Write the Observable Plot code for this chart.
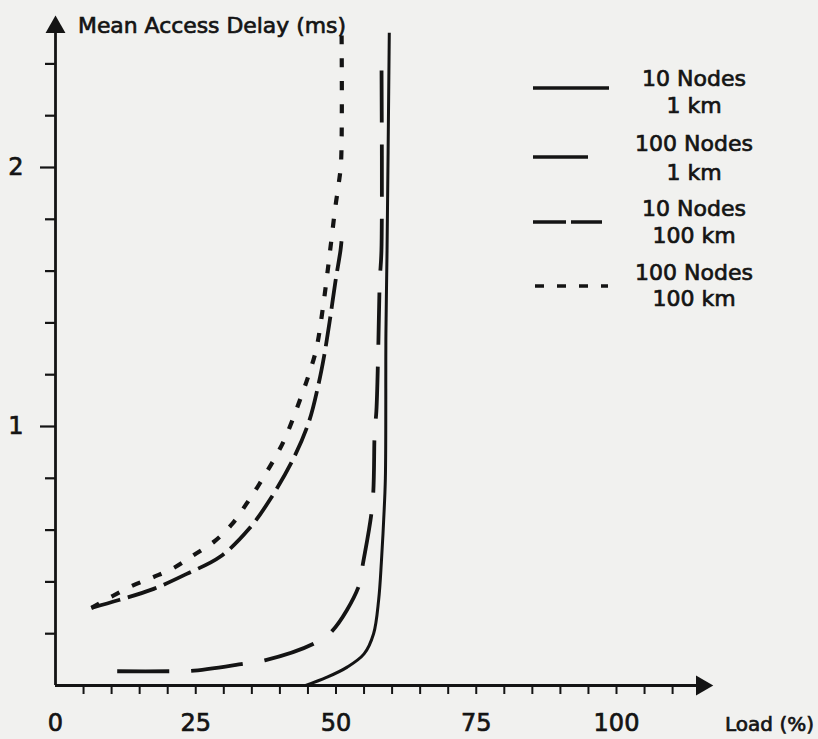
<!DOCTYPE html>
<html>
<head>
<meta charset="utf-8">
<script src="https://cdn.jsdelivr.net/npm/d3@7"></script>
<script src="https://cdn.jsdelivr.net/npm/@observablehq/plot@0.6"></script>
<style>
  html, body { margin: 0; padding: 0; background: #f1f1ef; }
  #wrap { position: relative; width: 818px; height: 739px; overflow: hidden; }
  #wrap svg { position: absolute; left: 0; top: 0; }
</style>
</head>
<body>
<div id="wrap"></div>
<script>
// ---- data ----
const seriesNames = ["10 Nodes 1 km", "100 Nodes 1 km", "10 Nodes 100 km", "100 Nodes 100 km"];

const load10n1km  = [44.6, 48.4, 52.0, 55.0, 56.7, 57.6, 58.1, 58.5, 58.8, 58.9, 59.1, 59.5];
const delay10n1km = [0.0, 0.032, 0.071, 0.122, 0.20, 0.33, 0.48, 0.64, 0.80, 1.36, 1.68, 2.52];

const load100n1km  = [11.0, 20.2, 24.1, 33.5, 37.3, 46.0, 49.3, 54.0, 54.8, 56.5, 56.9, 57.2, 57.5, 57.8, 58.1, 58.1];
const delay100n1km = [0.055, 0.055, 0.056, 0.084, 0.097, 0.161, 0.21, 0.38, 0.47, 0.70, 0.98, 1.06, 1.27, 1.56, 1.68, 2.44];

const load10n100km  = [6.4, 11.3, 17.5, 23.4, 29.4, 34.5, 38.3, 42.5, 45.2, 46.9, 47.9, 48.9, 49.9, 50.8, 51.0];
const delay10n100km = [0.30, 0.33, 0.373, 0.431, 0.498, 0.605, 0.72, 0.88, 1.02, 1.165, 1.274, 1.41, 1.56, 1.68, 1.72];

const load100n100km  = [6.4, 13.4, 17.4, 21.1, 24.8, 28.3, 31.5, 34.0, 36.4, 40.6, 43.7, 45.3, 46.5, 47.8, 48.9, 49.9, 50.5, 50.9, 51.0];
const delay100n100km = [0.30, 0.382, 0.418, 0.454, 0.506, 0.556, 0.624, 0.70, 0.78, 0.94, 1.11, 1.21, 1.30, 1.48, 1.67, 1.85, 1.94, 2.02, 2.51];

const xMinorTicks = d3.range(5, 111, 5);
const xTickLabels = [0, 25, 50, 75, 100];
const yMinorTicks = [0.2, 0.4, 0.6, 0.8, 1.2, 1.4, 1.6, 1.8, 2.2, 2.4];
const yTickLabels = [1, 2];

const titleText = "Mean Access Delay (ms)";
const xAxisText = "Load (%)";
const legendLines = [["10 Nodes", "1 km"], ["100 Nodes", "1 km"], ["10 Nodes", "100 km"], ["100 Nodes", "100 km"]];

// ---- build ----
const toRows = (xs, ys, name) => xs.map((x, i) => ({load: x, delay: ys[i], series: name}));
const rows = [
  toRows(load10n1km, delay10n1km, seriesNames[0]),
  toRows(load100n1km, delay100n1km, seriesNames[1]),
  toRows(load10n100km, delay10n100km, seriesNames[2]),
  toRows(load100n100km, delay100n100km, seriesNames[3])
];

const dashes = [null, "52,22", "30,8", "9,14"];
const widths = [3, 3.8, 3.8, 4.2];
const ink = "#141414";
const font = "DejaVu Sans, sans-serif";

const W = 818, H = 739;
const xMax = 120, yMax = 2.6;
const mL = 55, mB = 54;
const pxPerX = 5.61, pxPerY = 259;
const mR = W - (mL + pxPerX * xMax);
const mT = (H - mB) - pxPerY * yMax;

const lineMarks = rows.map((r, i) => Plot.line(r, {
  x: "load", y: "delay", stroke: ink, strokeWidth: widths[i],
  strokeDasharray: dashes[i], curve: "catmull-rom", strokeLinecap: "butt"
}));

const chart = Plot.plot({
  width: W, height: H,
  marginLeft: mL, marginRight: mR, marginTop: mT, marginBottom: mB,
  x: {domain: [0, xMax], label: null},
  y: {domain: [0, yMax], label: null},
  style: {background: "transparent", fontFamily: font, color: ink, overflow: "visible"},
  marks: [
    Plot.axisX(xMinorTicks, {tickSize: 9, tickFormat: () => "", strokeWidth: 2, label: null}),
    Plot.axisX(xTickLabels, {tickSize: 0, tickPadding: 28, fontSize: 24, label: null, tickFormat: d => String(d)}),
    Plot.axisY(yMinorTicks, {tickSize: 10, tickFormat: () => "", strokeWidth: 2.2, label: null}),
    Plot.axisY(yTickLabels, {tickSize: 15, tickPadding: 17, fontSize: 24, strokeWidth: 2.2, label: null, tickFormat: d => String(d)}),
    Plot.ruleY([0], {x1: 0, x2: 115, stroke: ink, strokeWidth: 2.8}),
    Plot.ruleX([0], {y1: 0, y2: 2.52, stroke: ink, strokeWidth: 2.8}),
    Plot.dot([0], {x: () => 115.2, y: () => 0, symbol: "triangle", r: 7.4, fill: ink, stroke: "none", rotate: 90}),
    Plot.dot([0], {x: () => 0, y: () => 2.542, symbol: "triangle", r: 7.4, fill: ink, stroke: "none"}),
    ...lineMarks
  ]
});
document.getElementById("wrap").appendChild(chart);
d3.select(chart).selectAll("text").attr("stroke", ink).attr("stroke-width", 0.7);

// ---- overlay: title, axis name, legend ----
const ov = d3.select("#wrap").append("svg")
  .attr("width", W).attr("height", H)
  .style("pointer-events", "none")
  .style("font-family", font).style("fill", ink);

const bold = sel => sel.attr("stroke", ink).attr("stroke-width", 0.7);

bold(ov.append("text").attr("x", 78).attr("y", 33).attr("font-size", 22)
  .attr("textLength", 268).attr("lengthAdjust", "spacingAndGlyphs").text(titleText));
bold(ov.append("text").attr("x", 814).attr("y", 731).attr("font-size", 20)
  .attr("text-anchor", "end").text(xAxisText));

const legSwatch = [
  {x1: 533, x2: 609, y: 88},
  {x1: 533, x2: 588, y: 157},
  {x1: 533, x2: 602, y: 222},
  {x1: 535, x2: 608, y: 286}
];
const legDash = [null, null, "33,5", "9,13"];
const legText = [[86, 113], [151, 180], [216, 243], [280, 306]];
legSwatch.forEach((s, i) => {
  ov.append("line").attr("x1", s.x1).attr("x2", s.x2).attr("y1", s.y).attr("y2", s.y)
    .attr("stroke", ink).attr("stroke-width", 3.6)
    .attr("stroke-dasharray", legDash[i]);
  legendLines[i].forEach((t, j) => {
    bold(ov.append("text").attr("x", 694).attr("y", legText[i][j]).attr("font-size", 22)
      .attr("text-anchor", "middle").text(t));
  });
});
</script>
</body>
</html>
